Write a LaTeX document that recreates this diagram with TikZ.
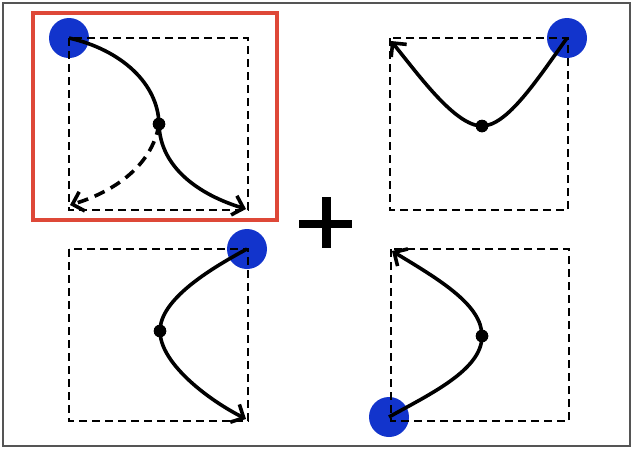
\documentclass[tikz,border=0pt]{standalone}
\usetikzlibrary{arrows.meta}
\definecolor{dotblue}{RGB}{18,52,204}
\definecolor{framered}{RGB}{222,72,56}
\definecolor{framegray}{RGB}{85,85,85}
\begin{document}
\begin{tikzpicture}[x=1pt,y=-1pt,
  boxline/.style={draw=black, dash pattern=on 8pt off 5pt, line width=2.3pt},
  bluedot/.style={circle, fill=dotblue, minimum size=40pt, inner sep=0pt},
  pivot/.style={circle, fill=black, minimum size=12.5pt, inner sep=0pt},
  curve/.style={line width=3.6pt},
  curvearrow/.style={line width=3.6pt, -{Straight Barb[length=10pt,width=20pt]}},
  dashcurve/.style={line width=3.6pt, dash pattern=on 11pt off 7pt, -{Straight Barb[length=10pt,width=20pt]}}
]
\useasboundingbox (0,0) rectangle (633,448);
\fill[white] (0,0) rectangle (633,448);
\draw[framegray, line width=2pt] (3,3) rectangle (630,446);
\draw[framered, line width=4.2pt] (33,13) rectangle (277,220);
% plus sign
\draw[line width=8.5pt] (299,224) -- (352,224);
\draw[line width=8.5pt] (326.5,197) -- (326.5,248);

% blue dots
\node[bluedot] (b1) at (69,38) {};
\node[bluedot] (b2) at (567,38) {};
\node[bluedot] (b3) at (247,249) {};
\node[bluedot] (b4) at (389,417) {};

% dashed boxes
\draw[boxline] (69,38) rectangle (248,210);
\draw[boxline] (390,38) rectangle (568,210);
\draw[boxline] (69,249) rectangle (248,421);
\draw[boxline] (391,249) rectangle (569,421);

% pivot points
\node[pivot] (m1) at (159,124) {};
\node[pivot] (m2) at (482,126) {};
\node[pivot] (m3) at (160,331) {};
\node[pivot] (m4) at (482,336) {};

% arrow end points
\coordinate (e1) at (246,209);
\coordinate (d1) at (70,205);
\coordinate (e2) at (391,41);
\coordinate (e3) at (246,419);
\coordinate (e4) at (392,251);

% panel 1
\draw[curve] (b1.center) .. controls (122,50) and (158,84) .. (m1.center);
\draw[curvearrow] (m1.center) .. controls (160,168) and (200,195) .. (e1);
\draw[dashcurve] (m1.center) .. controls (152,168) and (110,193) .. (d1);

% panel 2
\draw[curve] (b2.center) .. controls (537,80) and (507,126) .. (m2.center);
\draw[curvearrow] (m2.center) .. controls (455,126) and (418,74) .. (e2);

% panel 3
\draw[curve] (b3.center) .. controls (208,270) and (160,300) .. (m3.center);
\draw[curvearrow] (m3.center) .. controls (160,362) and (205,398) .. (e3);

% panel 4
\draw[curve] (b4.center) .. controls (430,394) and (482,370) .. (m4.center);
\draw[curvearrow] (m4.center) .. controls (482,305) and (440,280) .. (e4);

\node[pivot] at (m1) {};
\node[pivot] at (m2) {};
\node[pivot] at (m3) {};
\node[pivot] at (m4) {};
\end{tikzpicture}
\end{document}
